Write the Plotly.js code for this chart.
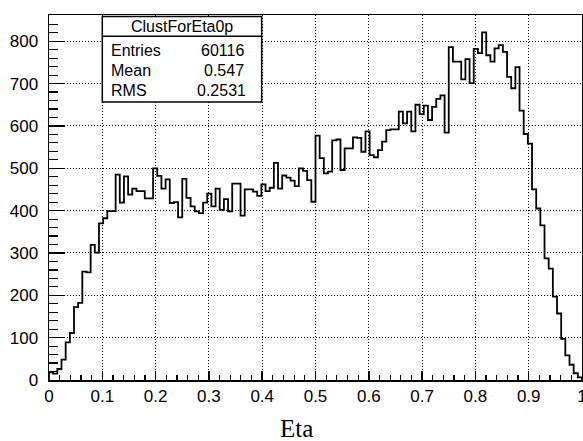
<!DOCTYPE html>
<html>
<head>
<meta charset="utf-8">
<script src="https://cdn.plot.ly/plotly-3.0.1.min.js"></script>
<style>
html,body{margin:0;padding:0;background:#fff;}
#chart{width:583px;height:441px;}
</style>
</head>
<body>
<div id="chart"></div>
<script>
// Histogram ClustForEta0p: 128 bins from 0 to 1
const histName = "ClustForEta0p";
const axisTitle = "Eta";
const binLow = 0;
const binHigh = 1;
const binValues = [
  18, 15, 26, 48, 89, 111, 172, 182, 256, 254,
  319, 301, 370, 382, 399, 399, 485, 419, 481, 438,
  452, 446, 446, 429, 429, 500, 482, 452, 474, 418,
  420, 384, 475, 430, 410, 398, 394, 419, 440, 410,
  452, 402, 427, 398, 464, 464, 388, 450, 450, 445,
  435, 462, 446, 454, 513, 452, 483, 478, 471, 458,
  500, 494, 472, 421, 577, 524, 488, 492, 566, 568,
  496, 547, 547, 573, 572, 539, 587, 531, 526, 543,
  563, 590, 592, 592, 634, 606, 634, 587, 650, 628,
  648, 614, 645, 664, 672, 584, 786, 752, 752, 710,
  758, 701, 782, 772, 821, 767, 752, 783, 791, 775,
  716, 689, 739, 636, 581, 558, 450, 405, 365, 287,
  263, 197, 157, 97, 58, 36, 16, 6
];
const statLabels = ["Entries", "Mean", "RMS"];
const statValues = ["60116", "0.547", "0.2531"];
const xTickVals = [0, 0.1, 0.2, 0.3, 0.4, 0.5, 0.6, 0.7, 0.8, 0.9, 1];
const xTickText = ["0", "0.1", "0.2", "0.3", "0.4", "0.5", "0.6", "0.7", "0.8", "0.9", "1"];
const yTickVals = [0, 100, 200, 300, 400, 500, 600, 700, 800];

// Build step outline from bin edges
const nBins = binValues.length;
const binWidth = (binHigh - binLow) / nBins;
const xs = [binLow];
const ys = [0];
for (let i = 0; i < nBins; i++) {
  xs.push(binLow + i * binWidth);
  ys.push(binValues[i]);
}
xs.push(binHigh); ys.push(binValues[nBins - 1]);
xs.push(binHigh); ys.push(0);

const tickFont = {family: "Liberation Sans, Arial, sans-serif", size: 17, color: "#000"};
const statFont = {family: "Liberation Sans, Arial, sans-serif", size: 16, color: "#000"};

const trace = {
  type: "scatter",
  mode: "lines",
  x: xs,
  y: ys,
  line: {shape: "hv", color: "#000", width: 1.8},
  hoverinfo: "skip",
  showlegend: false
};

const rowY = [0.904, 0.849, 0.7926];
const annotations = [
  {xref: "paper", yref: "paper", x: 0.2495, y: 0.9685, text: histName,
   showarrow: false, xanchor: "center", yanchor: "middle", font: statFont},
  {xref: "paper", yref: "paper", x: 0.464, y: -0.132, text: axisTitle,
   showarrow: false, xanchor: "center", yanchor: "middle",
   font: {family: "Liberation Serif, Times New Roman, serif", size: 25, color: "#000"}}
];
statLabels.forEach((lab, i) => {
  annotations.push({xref: "paper", yref: "paper", x: 0.1126, y: rowY[i], text: lab,
    showarrow: false, xanchor: "left", yanchor: "middle", font: statFont});
  annotations.push({xref: "paper", yref: "paper", x: i === 2 ? 0.373 : 0.3696, y: rowY[i], text: statValues[i],
    showarrow: false, xanchor: "right", yanchor: "middle", font: statFont});
});

const layout = {
  width: 583,
  height: 441,
  margin: {l: 49, r: 1, t: 15, b: 61, pad: 0},
  paper_bgcolor: "#fff",
  plot_bgcolor: "#fff",
  showlegend: false,
  xaxis: {
    range: [binLow, binHigh],
    tickvals: xTickVals,
    ticktext: xTickText,
    ticks: "inside",
    ticklen: 9,
    tickwidth: 1.5,
    tickcolor: "#000",
    showline: true,
    linecolor: "#000",
    linewidth: 1.5,
    mirror: true,
    showgrid: true,
    gridcolor: "#000",
    gridwidth: 1,
    griddash: "1px,2px",
    zeroline: false,
    tickfont: tickFont,
    ticklabelstandoff: 0,
    ticklabeloverflow: "allow",
    minor: {dtick: 0.02, ticks: "inside", ticklen: 5, tickwidth: 1.2, tickcolor: "#000", showgrid: false}
  },
  yaxis: {
    range: [0, 862],
    tickvals: yTickVals,
    ticks: "inside",
    ticklen: 16,
    tickwidth: 1.5,
    tickcolor: "#000",
    showline: true,
    linecolor: "#000",
    linewidth: 1.5,
    mirror: true,
    showgrid: true,
    gridcolor: "#000",
    gridwidth: 1,
    griddash: "1px,2px",
    zeroline: false,
    tickfont: tickFont,
    ticklabelstandoff: 6,
    minor: {dtick: 20, ticks: "inside", ticklen: 9, tickwidth: 1.2, tickcolor: "#000", showgrid: false}
  },
  shapes: [
    {type: "rect", xref: "paper", yref: "paper", x0: 0.1, x1: 0.399, y0: 0.7616, y1: 0.996,
     line: {color: "#000", width: 1.5}, fillcolor: "#fff", layer: "above"},
    {type: "line", xref: "paper", yref: "paper", x0: 0.1, x1: 0.399, y0: 0.942, y1: 0.942,
     line: {color: "#000", width: 1.5}, layer: "above"}
  ],
  annotations: annotations
};

Plotly.newPlot("chart", [trace], layout, {staticPlot: true, displayModeBar: false});
</script>
</body>
</html>
